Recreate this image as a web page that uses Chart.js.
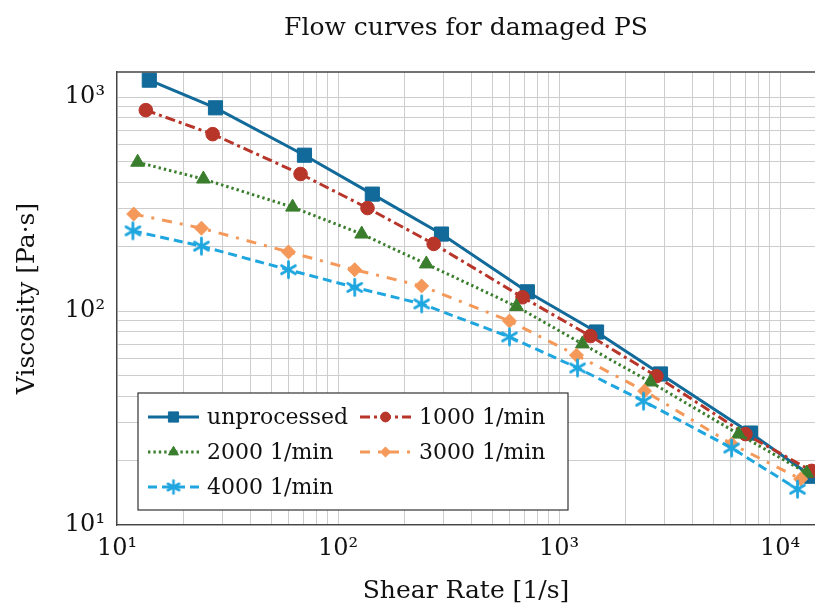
<!DOCTYPE html>
<html>
<head>
<meta charset="utf-8">
<script src="https://cdn.jsdelivr.net/npm/chart.js@4.4.1/dist/chart.umd.min.js"></script>
<style>
  html, body { margin: 0; padding: 0; background: #fff; }
  #wrap { width: 815px; height: 609px; }
</style>
</head>
<body>
<div id="wrap"><canvas id="flow-chart" width="815" height="609"></canvas></div>
<script>
// shear rate [1/s] and viscosity [Pa·s]
const rateUnprocessed = [14.0, 27.9, 70.5, 143, 294, 719, 1479, 2879, 7350, 13900];
const viscUnprocessed = [1200, 891, 535, 352, 229, 123, 79.8, 50.8, 26.9, 16.9];

const rate1000 = [13.5, 27.1, 67.7, 136, 271, 684, 1387, 2760, 6980, 13900];
const visc1000 = [869, 671, 437, 303, 206, 116, 76.4, 49.6, 26.6, 17.9];

const rate2000 = [12.4, 24.6, 62.3, 128, 251, 642, 1276, 2593, 6500, 13200];
const visc2000 = [496, 414, 306, 229, 166, 105, 70.2, 46.6, 26.6, 17.5];

const rate3000 = [11.9, 24.1, 59.7, 119, 239, 597, 1200, 2438, 6040, 12400];
const visc3000 = [284, 244, 189, 156, 131, 89.8, 62.2, 42.3, 23.9, 16.4];

const rate4000 = [11.8, 24.1, 59.7, 119, 239, 597, 1213, 2412, 6040, 12000];
const visc4000 = [237, 201, 156, 129, 108, 75.7, 54.2, 37.9, 22.9, 14.7];

const seriesNames = ['unprocessed', '1000 1/min', '2000 1/min', '3000 1/min', '4000 1/min'];

// labelled decades on both axes
const xTickValues = [10, 100, 1000, 10000];
const xTickLabels = ['10¹', '10²', '10³', '10⁴'];
const yTickValues = [10, 100, 1000];
const yTickLabels = ['10¹', '10²', '10³'];

const FONT = "'DejaVu Serif', 'Liberation Serif', serif";

// minor grid: 1..9 x 10^n
function logGrid(scale) {
  const vals = [];
  for (let e = 1; e <= 4; e++) {
    for (let m = 1; m <= 9; m++) {
      const v = m * Math.pow(10, e);
      if (v >= scale.min && v <= scale.max) vals.push(v);
    }
  }
  scale.ticks = vals.map(v => ({ value: v }));
}

function pts(xs, ys) {
  return xs.map((x, i) => ({ x: x, y: ys[i] }));
}

// six-armed asterisk like the pgfplots star
function makeStar(color, r, lw) {
  const s = Math.ceil(2 * r + lw + 2);
  const c = document.createElement('canvas');
  c.width = s; c.height = s;
  const g = c.getContext('2d');
  g.strokeStyle = color;
  g.lineWidth = lw;
  g.lineCap = 'round';
  for (let k = 0; k < 3; k++) {
    const a = Math.PI / 2 + k * Math.PI / 3;
    g.beginPath();
    g.moveTo(s / 2 + r * Math.cos(a), s / 2 + r * Math.sin(a));
    g.lineTo(s / 2 - r * Math.cos(a), s / 2 - r * Math.sin(a));
    g.stroke();
  }
  return c;
}

const cBlue = '#116a99';
const cRed = '#b8352a';
const cGreen = '#3a7e2d';
const cOrange = '#f4995a';
const cSky = '#1fa6df';

const starBig = makeStar(cSky, 8, 2.8);
const starSmall = makeStar(cSky, 6.5, 2.6);

function dataset(i, xs, ys, color, style, radius, dash, legendStyle) {
  return {
    label: seriesNames[i],
    data: pts(xs, ys),
    borderColor: color,
    backgroundColor: color,
    pointBackgroundColor: color,
    pointBorderColor: color,
    pointBorderWidth: 1,
    borderWidth: 3,
    borderDash: dash,
    pointStyle: style,
    pointRadius: radius,
    pointHoverRadius: radius,
    tension: 0,
    order: 5 - i,
    legendStyle: legendStyle || style,
  };
}

// legend box inside the plot, two columns
const flowLegend = {
  id: 'flowLegend',
  afterDraw(chart) {
    const { ctx, chartArea } = chart;
    const bx = chartArea.left + 21, by = chartArea.top + 321, bw = 430, bh = 117;
    ctx.save();
    ctx.fillStyle = '#fff';
    ctx.fillRect(bx, by, bw, bh);
    ctx.strokeStyle = '#333';
    ctx.lineWidth = 1.2;
    ctx.setLineDash([]);
    ctx.strokeRect(bx, by, bw, bh);

    chart.data.datasets.forEach((ds, i) => {
      const col = i % 2, row = Math.floor(i / 2);
      const sx = bx + 10 + col * 212;
      const sy = by + 24 + row * 35;
      ctx.strokeStyle = ds.borderColor;
      ctx.lineWidth = ds.borderWidth;
      ctx.setLineDash(ds.borderDash);
      ctx.beginPath();
      ctx.moveTo(sx, sy);
      ctx.lineTo(sx + 51, sy);
      ctx.stroke();
      ctx.setLineDash([]);
      ctx.fillStyle = ds.pointBackgroundColor;
      ctx.lineWidth = 1;
      Chart.helpers.drawPoint(ctx, {
        pointStyle: ds.legendStyle,
        rotation: 0,
        radius: ds.pointRadius * 0.72,
        borderWidth: 1,
      }, sx + 25.5, sy);
      ctx.fillStyle = '#111';
      ctx.font = '22px ' + FONT;
      ctx.textBaseline = 'middle';
      ctx.textAlign = 'left';
      ctx.fillText(ds.label, sx + 59, sy + 1);
    });
    ctx.restore();
  }
};

// top frame line (the right edge runs off the picture)
const topFrame = {
  id: 'topFrame',
  afterDatasetsDraw(chart) {
    const { ctx, chartArea } = chart;
    ctx.save();
    ctx.strokeStyle = '#444';
    ctx.lineWidth = 1.3;
    ctx.beginPath();
    ctx.moveTo(chartArea.left, chartArea.top);
    ctx.lineTo(chartArea.right, chartArea.top);
    ctx.stroke();
    ctx.restore();
  }
};

const ctx = document.getElementById('flow-chart').getContext('2d');
new Chart(ctx, {
  type: 'line',
  data: {
    datasets: [
      dataset(0, rateUnprocessed, viscUnprocessed, cBlue, 'rect', 10, []),
      dataset(1, rate1000, visc1000, cRed, 'circle', 6.8, [10, 4, 3, 4]),
      dataset(2, rate2000, visc2000, cGreen, 'triangle', 8, [2.4, 3]),
      dataset(3, rate3000, visc3000, cOrange, 'rectRot', 7, [10, 8, 3, 8]),
      dataset(4, rate4000, visc4000, cSky, starBig, 8, [9, 5], starSmall),
    ]
  },
  options: {
    responsive: false,
    animation: false,
    devicePixelRatio: 1,
    layout: { padding: 0, autoPadding: false },
    plugins: {
      legend: { display: false },
      tooltip: { enabled: false },
      title: {
        display: true,
        fullSize: false,
        text: 'Flow curves for damaged PS',
        color: '#111',
        font: { family: FONT, size: 25, weight: 'normal', lineHeight: 1.2 },
        padding: { top: 13, bottom: 29 }
      }
    },
    scales: {
      x: {
        type: 'logarithmic',
        min: 10,
        max: 14400,
        afterBuildTicks: logGrid,
        afterFit(s) { s.height = 84; s.paddingLeft = 0; s.paddingRight = 0; },
        grid: { color: '#cdcdcd', lineWidth: 1, drawTicks: false },
        border: { color: '#444', width: 1.3 },
        ticks: {
          autoSkip: false,
          maxRotation: 0,
          padding: 9,
          color: '#111',
          font: { family: FONT, size: 24 },
          callback: (v) => {
            const k = xTickValues.indexOf(v);
            return k >= 0 ? xTickLabels[k] : '';
          }
        },
        title: {
          display: true,
          text: 'Shear Rate [1/s]',
          color: '#111',
          font: { family: FONT, size: 25, lineHeight: 1.2 },
          padding: { top: 0, bottom: 3 }
        }
      },
      y: {
        type: 'logarithmic',
        min: 10,
        max: 1310,
        afterBuildTicks: logGrid,
        afterFit(s) { s.width = 117; s.paddingTop = 0; s.paddingBottom = 0; },
        grid: { color: '#cdcdcd', lineWidth: 1, drawTicks: false },
        border: { color: '#444', width: 1.3 },
        ticks: {
          autoSkip: false,
          padding: 12,
          color: '#111',
          font: { family: FONT, size: 24 },
          callback: (v) => {
            const k = yTickValues.indexOf(v);
            return k >= 0 ? yTickLabels[k] : '';
          }
        },
        title: {
          display: true,
          text: 'Viscosity [Pa·s]',
          color: '#111',
          font: { family: FONT, size: 25, lineHeight: 1.2 },
          padding: { top: 12, bottom: 0 }
        }
      }
    }
  },
  plugins: [topFrame, flowLegend]
});
</script>
</body>
</html>
